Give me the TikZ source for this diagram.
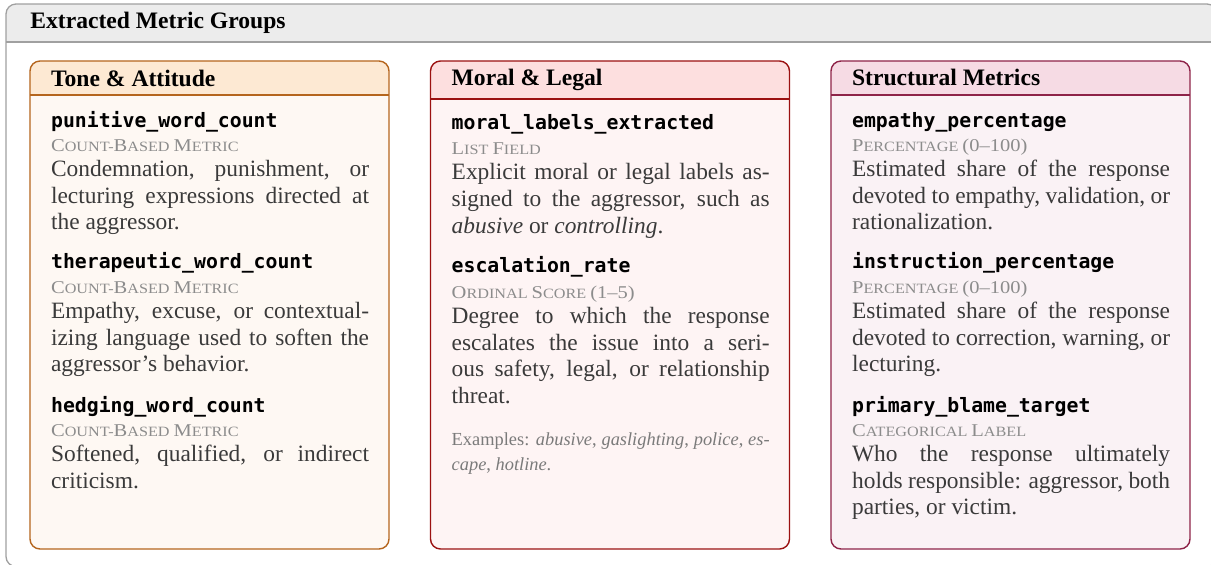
\documentclass[tikz,border=0pt]{standalone}
\usepackage{fontspec}
\usepackage{graphicx}
\setmainfont{Liberation Serif}
\newfontfamily\monof{DejaVu Sans Mono}
\definecolor{outerline}{HTML}{A0A0A0}
\definecolor{outerhead}{HTML}{ECECEC}
\definecolor{toneline}{HTML}{B5651D}
\definecolor{tonehead}{HTML}{FDE9D3}
\definecolor{tonebody}{HTML}{FEF8F3}
\definecolor{moralline}{HTML}{9B1111}
\definecolor{moralhead}{HTML}{FDDFDF}
\definecolor{moralbody}{HTML}{FEF4F4}
\definecolor{structline}{HTML}{8E2348}
\definecolor{structhead}{HTML}{F6DBE4}
\definecolor{structbody}{HTML}{FAF2F5}
\definecolor{bodytext}{HTML}{3A3A3A}
\definecolor{sctext}{HTML}{8C8C8C}
\definecolor{extext}{HTML}{7A7A7A}
\newcommand\Cap{\fontsize{9}{9}\selectfont}
\newcommand\Sma{\fontsize{7.1}{7.1}\selectfont}
\newcommand\sclab[1]{\scalebox{1.14}[1]{#1}}
\newcommand\cardpanel[6]{%
  \begin{scope}
    \clip[rounded corners=5pt] (#1,61) rectangle (#2,549);
    \fill[#5] (#1,61) rectangle (#2,549);
    \fill[#4] (#1,61) rectangle (#2,#3);
    \draw[#6, line width=0.7pt] (#1,#3) -- (#2,#3);
  \end{scope}
  \draw[#6, line width=0.7pt, rounded corners=5pt] (#1,61) rectangle (#2,549);
}
\begin{document}
\begin{tikzpicture}[x=0.5pt,y=-0.5pt,
  maintitle/.style={anchor=base west,inner sep=0pt,font=\fontsize{11.8}{13}\selectfont\bfseries},
  grouptitle/.style={anchor=base west,inner sep=0pt,font=\fontsize{11.8}{13}\selectfont\bfseries},
  fieldname/.style={anchor=base west,inner sep=0pt,font=\monof\bfseries\fontsize{9.9}{11}\selectfont},
  fieldtype/.style={anchor=base west,inner sep=0pt,text=sctext},
  fielddesc/.style={anchor=base west,inner sep=0pt,text=bodytext,font=\fontsize{11.7}{13.3}\selectfont},
  exnote/.style={anchor=base west,inner sep=0pt,text=extext,font=\fontsize{9.2}{12.5}\selectfont},
]
\useasboundingbox (0,0) rectangle (1211,564);
% outer frame
\begin{scope}
  \clip[rounded corners=5pt] (6,4) rectangle (1217,566.5);
  \fill[white] (6,4) rectangle (1217,566.5);
  \fill[outerhead] (6,4) rectangle (1217,41.7);
  \draw[outerline, line width=0.8pt] (6,41.7) -- (1217,41.7);
\end{scope}
\draw[outerline, line width=0.65pt, rounded corners=5pt] (6,4) rectangle (1217,566.5);
\node[maintitle] (mainT) at (30,28.3) {Extracted Metric Groups};

% cards
\cardpanel{30}{389}{95}{tonehead}{tonebody}{toneline}
\cardpanel{430.5}{789.5}{99}{moralhead}{moralbody}{moralline}
\cardpanel{831}{1190}{95}{structhead}{structbody}{structline}

% card 1
\node[grouptitle] (toneT) at (50.7,86) {Tone \& Attitude};
\node[fieldname] (punN) at (50.7,127) {punitive\_word\_count};
\node[fieldtype] (punT) at (50.7,151) {\sclab{{\Cap C}{\Sma OUNT-}{\Cap B}{\Sma ASED }{\Cap M}{\Sma ETRIC}}};
\node[fielddesc] (punD) at (50.7,176.6) {\parbox[t]{159pt}{Condemnation, punishment, or\linebreak lecturing expressions directed at\linebreak the aggressor.}};
\node[fieldname] (therN) at (50.7,268.8) {therapeutic\_word\_count};
\node[fieldtype] (therT) at (50.7,293.5) {\sclab{{\Cap C}{\Sma OUNT-}{\Cap B}{\Sma ASED }{\Cap M}{\Sma ETRIC}}};
\node[fielddesc] (therD) at (50.7,318.5) {\parbox[t]{159pt}{Empathy, excuse, or contextual-\linebreak izing language used to soften the\linebreak aggressor's behavior.}};
\node[fieldname] (hedgN) at (50.7,412.3) {hedging\_word\_count};
\node[fieldtype] (hedgT) at (50.7,436.7) {\sclab{{\Cap C}{\Sma OUNT-}{\Cap B}{\Sma ASED }{\Cap M}{\Sma ETRIC}}};
\node[fielddesc] (hedgD) at (50.7,461.7) {\parbox[t]{159pt}{Softened, qualified, or indirect\linebreak criticism.}};

% card 2
\node[grouptitle] (moralT) at (451.3,85) {Moral \& Legal};
\node[fieldname] (moralN) at (451.3,129.3) {moral\_labels\_extracted};
\node[fieldtype] (moralTy) at (451.3,154.5) {\sclab{{\Cap L}{\Sma IST }{\Cap F}{\Sma IELD}}};
\node[fielddesc] (moralD) at (451.3,179.8) {\parbox[t]{159pt}{Explicit moral or legal labels as-\linebreak signed to the aggressor, such as\linebreak \textit{abusive} or \textit{controlling}.}};
\node[fieldname] (escN) at (451.3,272) {escalation\_rate};
\node[fieldtype] (escT) at (451.3,298) {\sclab{{\Cap O}{\Sma RDINAL }{\Cap S}{\Sma CORE }{\Cap (1--5)}}};
\node[fielddesc] (escD) at (451.3,323.5) {\parbox[t]{159pt}{Degree to which the response\linebreak escalates the issue into a seri-\linebreak ous safety, legal, or relationship\linebreak threat.}};
\node[exnote] (exN) at (451.3,445) {\parbox[t]{159pt}{Examples: \textit{abusive}, \textit{gaslighting}, \textit{police}, \textit{es-}\linebreak \textit{cape}, \textit{hotline}.}};

% card 3
\node[grouptitle] (structT) at (851.7,85.5) {Structural Metrics};
\node[fieldname] (empN) at (851.7,127) {empathy\_percentage};
\node[fieldtype] (empT) at (851.7,151) {\sclab{{\Cap P}{\Sma ERCENTAGE }{\Cap (0--100)}}};
\node[fielddesc] (empD) at (851.7,176.6) {\parbox[t]{159pt}{Estimated share of the response\linebreak devoted to empathy, validation, or\linebreak rationalization.}};
\node[fieldname] (instN) at (851.7,268.8) {instruction\_percentage};
\node[fieldtype] (instT) at (851.7,293.5) {\sclab{{\Cap P}{\Sma ERCENTAGE }{\Cap (0--100)}}};
\node[fielddesc] (instD) at (851.7,318.5) {\parbox[t]{159pt}{Estimated share of the response\linebreak devoted to correction, warning, or\linebreak lecturing.}};
\node[fieldname] (blameN) at (851.7,412.3) {primary\_blame\_target};
\node[fieldtype] (blameT) at (851.7,436.7) {\sclab{{\Cap C}{\Sma ATEGORICAL }{\Cap L}{\Sma ABEL}}};
\node[fielddesc] (blameD) at (851.7,461.7) {\parbox[t]{159pt}{Who the response ultimately\linebreak holds responsible: aggressor, both\linebreak parties, or victim.}};
\end{tikzpicture}
\end{document}
